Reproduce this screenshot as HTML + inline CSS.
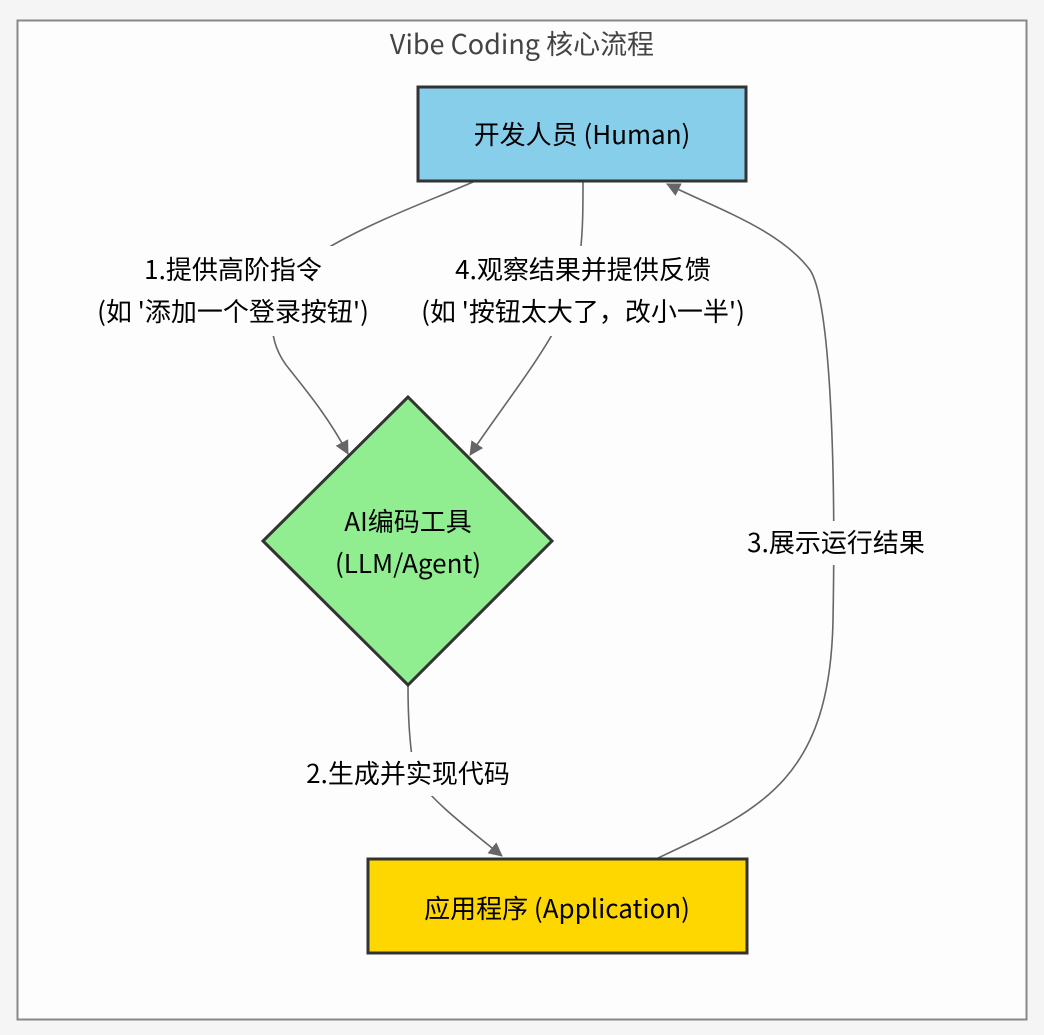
<!DOCTYPE html>
<html><head><meta charset="utf-8"><style>
html,body{margin:0;padding:0;background:#f5f5f5;}
svg{display:block;font-family:"Noto Sans CJK SC","Liberation Sans",sans-serif;}
</style></head><body>
<svg width="1044" height="1035" viewBox="0 0 1044 1035" xmlns="http://www.w3.org/2000/svg">
<defs><marker id="a" markerWidth="14" markerHeight="14" refX="13" refY="7" orient="auto" markerUnits="userSpaceOnUse"><path d="M0,0 L14,7 L0,14 z" fill="#666"/></marker></defs>
<rect x="17.5" y="20.5" width="1009" height="999" fill="#fdfdfd" stroke="#888" stroke-width="2"/>
<text x="522" y="54" text-anchor="middle" font-size="27" fill="#444">Vibe Coding 核心流程</text>
<g fill="none" stroke="#666" stroke-width="1.6">
<path d="M473,182 C420,205 360,225 300,265 C265,300 265,340 290,370 C310,395 330,420 348,454" marker-end="url(#a)"/>
<path d="M583,182 C583,230 583,280 560,320 C540,360 500,410 470,455" marker-end="url(#a)"/>
<path d="M408,686 C408,720 410,750 415,775 C430,800 470,830 502,856" marker-end="url(#a)"/>
<path d="M658,858 C760,810 830,780 833,620 C836,460 830,300 810,270 C780,230 720,210 667,184" marker-end="url(#a)"/>
</g>
<rect x="418" y="87" width="328" height="94" fill="#87ceeb" stroke="#333" stroke-width="3"/>
<text x="582" y="144" text-anchor="middle" font-size="26" fill="#000">开发人员 (Human)</text>
<polygon points="408,397 552,541 408,685 263,541" fill="#90ee90" stroke="#333" stroke-width="3"/>
<text x="408" y="531" text-anchor="middle" font-size="26" fill="#000">AI编码工具</text>
<text x="408" y="573" text-anchor="middle" font-size="26" fill="#000">(LLM/Agent)</text>
<rect x="368" y="859" width="379" height="94" fill="#ffd700" stroke="#333" stroke-width="3"/>
<text x="557" y="918" text-anchor="middle" font-size="26" fill="#000">应用程序 (Application)</text>
<g font-size="26" fill="#000" text-anchor="middle">
<rect x="84" y="246" width="298" height="90" fill="#fdfdfd"/>
<text x="233" y="279">1.提供高阶指令</text>
<text x="233" y="321">(如 '添加一个登录按钮')</text>
<rect x="404" y="246" width="358" height="90" fill="#fdfdfd"/>
<text x="583" y="279">4.观察结果并提供反馈</text>
<text x="583" y="321">(如 '按钮太大了，改小一半')</text>
<rect x="292" y="752" width="232" height="44" fill="#fdfdfd"/>
<text x="408" y="783">2.生成并实现代码</text>
<rect x="734" y="521" width="204" height="44" fill="#fdfdfd"/>
<text x="836" y="552">3.展示运行结果</text>
</g>
</svg>
</body></html>
